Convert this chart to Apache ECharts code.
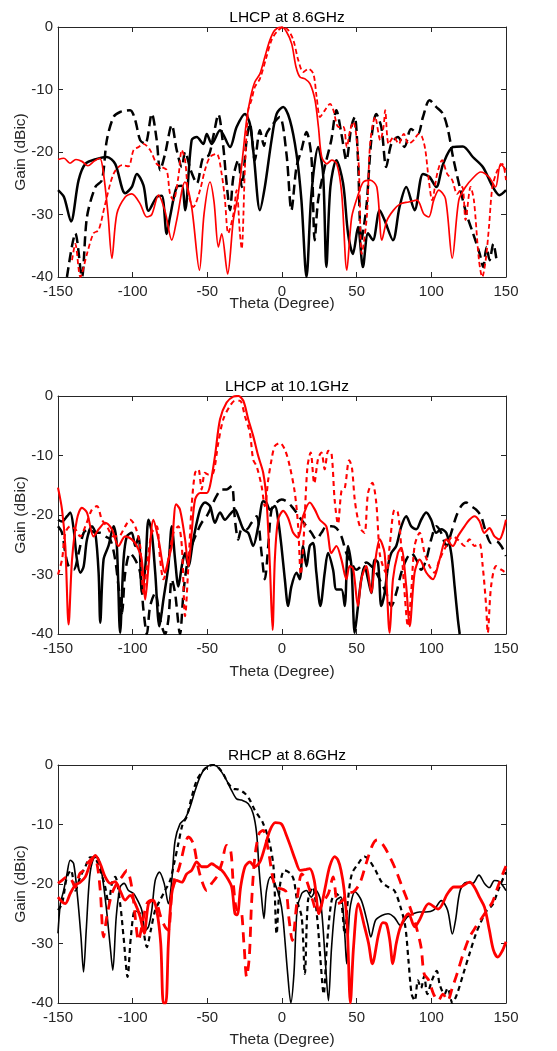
<!DOCTYPE html>
<html>
<head>
<meta charset="utf-8">
<script src="https://cdn.jsdelivr.net/npm/echarts@6/dist/echarts.min.js"></script>
<style>
  html, body { margin: 0; padding: 0; background: #fff; }
  #chart { width: 557px; height: 1051px; }
</style>
</head>
<body>
<div id="chart"></div>
<script>
// panel titles and axis ticks
var panelTitles = ['LHCP at 8.6GHz', 'LHCP at 10.1GHz', 'RHCP at 8.6GHz'];
var thetaRange = [-150, 150, 50];
var gainRange = [-40, 0, 10];

// ---- LHCP at 8.6GHz : [theta, gain]
var p1BlackSolid = [[-150,-26.1],[-146,-27.2],[-141.3,-31.1],[-136.2,-24.5],[-131.7,-21.9],[-124,-21.1],[-117.3,-20.8],[-111.7,-21.9],[-105,-26.6],[-100.6,-25.6],[-97.2,-23.5],[-92.8,-25.3],[-89.4,-29.4],[-83.9,-27.2],[-80.5,-27],[-77.2,-33.1],[-75,-30.4],[-70.5,-25.6],[-67.1,-25.4],[-64.9,-29.3],[-60.5,-18.1],[-57.1,-17.6],[-52.7,-18.7],[-50.4,-17.1],[-47.1,-18.7],[-41.5,-16.5],[-34.8,-19.2],[-30.4,-16],[-24.8,-13.9],[-21.5,-15.5],[-18.8,-20.8],[-14.8,-29.3],[-11.5,-25.6],[-7,-18.1],[-3.6,-13.9],[0.8,-12.8],[5.3,-14.9],[9.7,-20.3],[13,-27.7],[16.4,-40],[19.7,-26.7],[24.2,-19.2],[27.5,-23.5],[29.7,-38.4],[32.4,-25.6],[36.4,-21.3],[40.9,-25],[44.2,-33],[47.5,-36.3],[50.9,-32],[54.2,-38.4],[57.6,-33],[60.9,-34.1],[65.4,-29.3],[68.7,-30.9],[74.3,-34.1],[78.7,-28.8],[83.2,-25.6],[88.8,-29.3],[94.4,-23.5],[98.8,-24],[103.3,-25.6],[107.8,-22],[114.4,-19.2],[121.1,-19.1],[127.8,-20.8],[134.5,-22.4],[141.2,-25.6],[145.6,-26.9],[150,-26.1]];
var p1BlackDashed = [[-144,-40],[-140.6,-35],[-138.4,-33],[-134,-40],[-130.6,-30.4],[-125,-25.6],[-120.6,-24.5],[-117.3,-18.1],[-112.8,-14.4],[-108.4,-13.6],[-101.7,-13.3],[-98.3,-14.9],[-95,-18.1],[-91.6,-18.7],[-87.2,-13.9],[-83.9,-18.1],[-81.6,-22.9],[-78.3,-20.3],[-73.8,-15.7],[-70.5,-19.7],[-67.1,-22.4],[-64.9,-20],[-61,-23],[-57,-25],[-53,-21],[-49,-20.5],[-46,-17.5],[-42.6,-14],[-39.3,-19.2],[-37.3,-24.5],[-34.8,-29.3],[-32.6,-24],[-29.3,-21.3],[-27,-25.6],[-23.7,-18.1],[-21.5,-15.5],[-18.2,-21.3],[-14.8,-16.5],[-12,-19],[-10.4,-17.1],[-5.9,-15.5],[-1.5,-14.4],[3,-20.3],[6.3,-29.3],[9.7,-22.4],[13,-19.7],[16.4,-16.8],[19.7,-20.8],[21.9,-34.1],[24.2,-27.7],[28.6,-22.4],[33,-18.1],[36.4,-13.3],[39.8,-17.1],[43.1,-21.3],[46.4,-16],[48.7,-14.4],[50.9,-21.3],[53.1,-34.1],[56.5,-28.8],[59.8,-18.1],[63.1,-13.9],[66.5,-16],[69.8,-22.4],[73.2,-18.7],[77.6,-17.6],[82,-19.2],[86.4,-16.3],[91,-17.1],[94.4,-14.4],[98.8,-11.7],[103.3,-12.8],[107.8,-13.9],[111.2,-16.5],[114.5,-20.8],[119,-25.6],[123.5,-29.9],[127.9,-33],[132.4,-36.3],[134.7,-38.4],[137,-35.2],[139,-37.3],[141.5,-34.7],[143.5,-37]];
var p1RedSolid = [[-150,-21.2],[-146,-21],[-142,-21.8],[-138,-21.2],[-134,-21.5],[-130,-22.2],[-126,-21.5],[-122,-21],[-119.5,-23.5],[-116.5,-30],[-113.9,-37],[-110.6,-29.9],[-105,-27.2],[-100.6,-26.7],[-95,-28.3],[-90.5,-30.4],[-87.2,-30],[-82.7,-26.9],[-78.3,-29.5],[-73.8,-34.1],[-70.5,-30.9],[-65,-24.8],[-60.5,-28.8],[-55.3,-38.9],[-52.2,-29.9],[-48.2,-24.8],[-45.5,-28],[-42.6,-35.2],[-40.4,-33.1],[-36.4,-39.5],[-32.6,-30.9],[-29.3,-26.7],[-26.4,-20.8],[-23.7,-14.9],[-21,-11.2],[-18.2,-8.8],[-14.8,-7.5],[-11.5,-4.8],[-8.1,-2.1],[-4.8,-0.5],[-0.2,0],[3.1,-0.8],[6.5,-2.7],[9.4,-6.4],[12,-8],[15.4,-8.3],[18.8,-9.1],[22.1,-11.7],[24.4,-16],[26.6,-20.8],[30,-21.9],[33.3,-21.3],[36.7,-21.9],[40,-26.7],[43.4,-38.9],[46.7,-30.4],[51.2,-26.7],[54.5,-24.8],[59,-24.5],[63.5,-25.6],[66.9,-34.1],[70.2,-31],[74.7,-29.3],[79.2,-28.3],[84.8,-28],[90.4,-27.7],[94.9,-29.9],[98.3,-30.4],[101.6,-27.7],[105,-26.1],[109.5,-27.5],[114,-37],[118.4,-27.7],[122.9,-25.6],[128.5,-24],[133,-23.2],[138.6,-24],[143,-25.6],[146.4,-21.9],[150,-22.9]];
var p1RedDashed = [[-140.6,-37.3],[-138.4,-34.7],[-135,-40],[-130.6,-36.3],[-126.2,-33],[-122.8,-32.5],[-118.4,-28.3],[-112.8,-23.5],[-107.2,-22.1],[-102.8,-22.3],[-99.4,-19.7],[-96,-19.2],[-92.8,-18.7],[-88.3,-19.7],[-83.9,-21.9],[-80.5,-22.4],[-77.2,-22.9],[-75,-26.7],[-72.7,-27.7],[-69.4,-24],[-67.1,-19.7],[-64.9,-21.3],[-62.7,-26.7],[-59.4,-28.8],[-54.9,-26.1],[-51.6,-22.9],[-48.2,-20.8],[-43.8,-20.3],[-40.4,-23.5],[-38.2,-27.7],[-36,-33],[-32.6,-30],[-30.4,-26.1],[-28.2,-33],[-27,-35.5],[-24.8,-22.4],[-22.6,-13.3],[-20.4,-11.7],[-18.2,-9.6],[-14.8,-8.3],[-10.4,-4.8],[-7,-2.1],[-3.6,-0.8],[0.9,0],[4.2,-0.5],[7.6,-2.1],[10.9,-5.3],[14.3,-7.2],[17.6,-6.7],[21,-7.5],[23.2,-11.2],[25.5,-14.4],[28.8,-13.3],[32.2,-12.3],[34.4,-13.3],[37.8,-16],[41.1,-16],[43.4,-19.2],[45.6,-16.5],[47.8,-15.2],[51.2,-21.3],[53.4,-36.3],[56.8,-30.4],[59,-18.7],[62.4,-14.4],[65.8,-18.1],[68,-16],[69.1,-13.3],[71.4,-18.7],[74.8,-17.6],[78.2,-18.7],[81.5,-17.1],[84.8,-18.7],[88.2,-18.1],[91.6,-17.1],[93.8,-17.6],[96,-19.7],[98.3,-24.5],[100.5,-27.7],[103.9,-23.5],[107.2,-21.3],[110.6,-23.5],[114,-24.5],[117.3,-26.7],[120.7,-25.6],[122.9,-30.9],[126.3,-25.6],[128.5,-27.7],[131.9,-37.3],[134.1,-40],[136.4,-37.3],[138.6,-32],[140.9,-25.6],[144.3,-22.9],[147.6,-21.9],[150,-24.5]];

// ---- LHCP at 10.1GHz
var p2BlackSolid = [[-150,-20.8],[-147.3,-21.1],[-143.9,-20.2],[-141.8,-19.6],[-139.5,-22.4],[-137.3,-27.5],[-135,-29.7],[-132.8,-28.6],[-130.6,-24.1],[-127.3,-21.9],[-125,-23],[-122.8,-29.7],[-121.7,-38.1],[-119.5,-27.5],[-116.2,-25.2],[-112.8,-21.9],[-110.6,-25.2],[-108.4,-39.8],[-106.1,-27.5],[-103.9,-23.6],[-100.6,-23],[-98.3,-25.2],[-96,-23.6],[-93.8,-33.1],[-91.5,-28.6],[-89.4,-20.8],[-87.2,-23],[-84.9,-29.7],[-82.1,-38.7],[-79.4,-34.2],[-76.1,-28.6],[-73.8,-21.9],[-71.6,-27.5],[-69.4,-32],[-67.1,-28.6],[-64.9,-26.4],[-62.7,-28.6],[-59.4,-24.1],[-54.9,-19.1],[-51.6,-17.9],[-48.2,-18.5],[-44.9,-21.3],[-41.5,-19.6],[-38.2,-20.8],[-34.9,-19.9],[-31.5,-19.1],[-29.3,-20.2],[-25.9,-22.4],[-22.6,-23],[-19.3,-25.2],[-15.9,-21.9],[-12.6,-17.7],[-10.4,-18],[-8.1,-19.1],[-4.8,-18.5],[-2.6,-20.8],[-0.4,-25.2],[1.9,-30.8],[4.1,-35.3],[6.3,-32],[9.7,-29.7],[11.9,-30.8],[14.1,-25.2],[16.4,-28.6],[18.6,-25.2],[20.8,-24.7],[23,-29.7],[25.7,-35.3],[28.6,-29.7],[30.8,-26.4],[34.2,-29.2],[36.4,-32.5],[39.8,-32.5],[42,-35.3],[44.2,-25.2],[46.5,-28.6],[48.7,-39.8],[50.9,-35.3],[53.1,-30.8],[55.3,-28.6],[57.6,-30.8],[59.8,-33.1],[62,-27.5],[64.3,-28],[66.5,-35.3],[68.7,-33.1],[71,-28.6],[73.2,-26.4],[76.5,-25.2],[79.9,-21.9],[83.2,-20.2],[86.5,-21.9],[89.9,-22.4],[93.2,-20.8],[96.6,-19.6],[99.9,-20.8],[103.3,-23],[106.6,-22.4],[110,-23],[113.3,-26.4],[115.6,-32],[117.8,-37.6],[119,-40]];
var p2BlackDashed = [[-150,-21.9],[-147.3,-23],[-145.1,-26.4],[-142.9,-28.6],[-139.5,-29.2],[-136.2,-26.4],[-132.8,-23],[-129.5,-22.4],[-125,-23],[-121.7,-23],[-118.4,-23.6],[-115,-24.1],[-111.7,-27.5],[-109.5,-32],[-107.2,-36.5],[-105,-29.7],[-101.7,-26.4],[-98.3,-27.5],[-95,-29.7],[-92.8,-35.9],[-90.5,-40],[-88.3,-35.3],[-84.9,-33.1],[-81.6,-37.6],[-78.3,-40],[-76.1,-37.6],[-73.8,-30.8],[-71.6,-33.1],[-68.3,-40],[-66,-33.1],[-63.8,-28.6],[-60.5,-25.2],[-57.1,-23],[-53.8,-21.3],[-50.4,-20.2],[-47.1,-18.5],[-43.8,-16.8],[-40.4,-15.7],[-37.1,-15.7],[-33.7,-15.1],[-31.5,-20.8],[-29.3,-24.1],[-27,-22.4],[-23.7,-22.4],[-20.4,-21.3],[-17,-20.2],[-13.7,-26.4],[-11.5,-30.8],[-9.2,-25.2],[-7,-19.1],[-3.6,-17.9],[-0.3,-17.4],[3,-17.7],[6.3,-18.5],[9.7,-19.6],[13,-20.8],[16.4,-21.9],[19.7,-23],[23,-24.1],[26.4,-23],[29.7,-21.9],[33,-21.9],[36.4,-22.2],[39.8,-23.6],[43.1,-26.4],[46.4,-28],[49.8,-29.2],[53.1,-28.6],[56.5,-28],[59.8,-28.6],[63.1,-29.7],[66.5,-31.4],[69.8,-33.1],[73.2,-35.3],[76.5,-33.1],[79.9,-29.7],[83.2,-27.5],[86.5,-26.4],[89.9,-27.5],[93.2,-29.2],[96.6,-27.5],[99.9,-24.1],[103.3,-21.9],[106.6,-23],[110,-25.2],[113.3,-23],[116.7,-20.2],[120,-18.5],[123.3,-17.9],[126.6,-18.5],[130,-19.1],[133.3,-20.2],[136.7,-23],[140,-24.7],[143.4,-24.4],[146.8,-25.2],[150,-26.9]];
var p2RedSolid = [[-150,-15.4],[-147.3,-19.1],[-145.1,-25.2],[-142.9,-38.4],[-140.6,-27.5],[-137.3,-20.7],[-134,-18.8],[-130.6,-19.6],[-126.2,-23.6],[-122.8,-22.4],[-118.4,-21.3],[-113.9,-22.4],[-109.5,-25.2],[-105,-23.6],[-100.6,-24.1],[-97.2,-25.2],[-93.9,-27.5],[-91.6,-34.2],[-89.4,-28.6],[-86.1,-20.8],[-82.7,-24.1],[-78.3,-29.7],[-76.1,-27.5],[-73.8,-25.2],[-70.9,-18.2],[-68.3,-19.1],[-64.9,-24.1],[-62.7,-28.6],[-60.5,-23],[-58.2,-17.4],[-54.9,-16.3],[-50.4,-16.3],[-48.2,-15.1],[-44.9,-10.1],[-41.5,-3.9],[-37.1,-1.1],[-32.6,-0.1],[-29.3,0],[-25.9,-0.8],[-22.6,-3.9],[-19.3,-6.7],[-15.9,-10.1],[-12.6,-12.9],[-10.4,-17.4],[-8.1,-28.6],[-6.3,-39.3],[-4.8,-27.5],[-2.6,-20.8],[0.8,-19.3],[4.1,-20.5],[7.5,-23],[10.8,-23.8],[14.1,-20.2],[18.6,-17.9],[22,-19.1],[25.3,-20.8],[29.7,-21.9],[33.1,-26.4],[36.4,-25.2],[39.8,-27.5],[43.1,-30.8],[45.3,-28.6],[47.6,-29],[50.9,-35.3],[53.1,-30.8],[56.5,-28.6],[59.8,-33.1],[62,-28.6],[65.4,-24.1],[68.7,-26.4],[72.1,-39.8],[74.3,-30.8],[77.6,-26.4],[79.8,-25.5],[83.2,-32],[85.5,-38.7],[88.8,-29.7],[92.2,-27.5],[96.7,-29.7],[101,-30.8],[105.5,-27.5],[110,-24.1],[114.4,-25.2],[117.7,-23.6],[122.2,-21.9],[125.5,-20.8],[128.8,-20.2],[132.2,-21],[135.5,-23],[138.9,-22.2],[142.3,-23.6],[145.5,-24.1],[150,-20.8]];
var p2RedDashed = [[-150,-30],[-147.3,-27.5],[-145.1,-23],[-141.8,-21.9],[-138.4,-22.4],[-135.1,-23.6],[-131.7,-21.9],[-127.3,-19.1],[-123.9,-18.5],[-120.6,-20.8],[-117.3,-21.9],[-112.8,-23.6],[-109.5,-23.6],[-105,-21.9],[-101.7,-20.8],[-98.3,-21.9],[-95,-25.2],[-92.8,-33.1],[-90.5,-28.6],[-87.2,-23],[-83.9,-21.9],[-81.6,-27.5],[-79.4,-30.8],[-76.1,-27.5],[-72.7,-23],[-69.4,-21.9],[-67.1,-25.2],[-64.9,-37],[-62.7,-28.6],[-60.5,-18.5],[-58.2,-12.9],[-56,-12.3],[-53.8,-15.7],[-51.6,-12.9],[-49.3,-13.2],[-46,-12.9],[-42.7,-7.9],[-39.3,-3.9],[-34.9,-1.7],[-31.5,-0.8],[-28.2,-0.8],[-24.8,-3.4],[-21.5,-6.2],[-19.3,-10.7],[-17,-11.8],[-13.7,-15.1],[-11.5,-18.5],[-9.2,-14],[-7,-10.7],[-4.8,-8.4],[-1.4,-7.9],[1.9,-9],[5.2,-11.8],[8.6,-16.3],[10.8,-21.9],[12.6,-30],[14.5,-24],[17,-12],[19.2,-9.5],[21.6,-14.7],[24.2,-10.5],[26.4,-9.5],[28.6,-12.3],[31,-9.2],[33.1,-9.5],[35.3,-17.6],[37.5,-21.5],[39.8,-16],[42,-15.5],[45,-10.8],[46.8,-12],[48.7,-17.4],[50.9,-20.8],[53.1,-22.5],[55.3,-23],[57.6,-16.3],[60.5,-14.6],[63.1,-17.9],[65.4,-26.4],[67.6,-28.6],[69.8,-29.8],[72.1,-25.2],[75.4,-19.1],[77.6,-19.6],[79.8,-25.2],[82.1,-33.1],[84.3,-38.7],[86.5,-33],[88.8,-25.2],[92.2,-23],[95.5,-26.4],[98.8,-28.6],[102.2,-29.7],[105.5,-27.5],[110,-25.2],[114.4,-23.6],[118.9,-24.4],[122.2,-25.2],[125.5,-24.1],[128.9,-25.2],[132.2,-24.8],[134.4,-28.6],[136.7,-35.3],[137.8,-39.8],[140,-32],[143.4,-28.6],[146.8,-29.2],[150,-29.7]];

// ---- RHCP at 8.6GHz
var p3BlackSolid = [[-150,-28.3],[-148.4,-23.3],[-146.2,-21.1],[-144,-18.3],[-141.8,-16],[-139.5,-16.6],[-136.9,-22.2],[-134.6,-28.9],[-132.9,-34.8],[-131.1,-27.8],[-128.8,-18.8],[-126.2,-15.7],[-123.5,-15.5],[-120.6,-18.3],[-117.7,-23.9],[-115,-30.6],[-113.3,-34.5],[-111,-25.5],[-108.4,-20.5],[-105.7,-19.9],[-102.8,-21.1],[-99.4,-21.6],[-96.8,-22.7],[-93.9,-24.4],[-91.6,-27.8],[-89.4,-27.2],[-87.2,-24.4],[-84.9,-19.4],[-82.1,-18],[-78.9,-19.9],[-76.1,-23.3],[-73.8,-19.4],[-71.6,-12.7],[-68.3,-9.9],[-64.9,-9],[-61.6,-7.1],[-58.2,-4.3],[-54.9,-2],[-51.6,-0.6],[-47.1,0],[-43.8,-0.2],[-40.4,-1.2],[-37.1,-2.6],[-33.7,-4.3],[-30.4,-5.7],[-27,-5.9],[-22.6,-6.5],[-19.3,-8.2],[-17,-11.5],[-15.3,-17.7],[-13.7,-22.2],[-12.1,-25.8],[-10.4,-21.1],[-7.7,-18.8],[-4.8,-19.9],[-1.4,-22.5],[0.6,-25.6],[3.8,-35.1],[5.9,-40],[8,-35.1],[10.1,-24.4],[13.2,-21.6],[16.4,-21.1],[19.5,-22.2],[22.7,-21.1],[25.8,-22.8],[29,-32.9],[31.1,-39.6],[33.2,-30.6],[36.3,-22.8],[39.5,-22.2],[42,-28.4],[43.3,-33.4],[45.4,-24.4],[48.9,-21.3],[53.2,-22.8],[57.4,-26.7],[59.5,-28.9],[62.6,-26.1],[66.8,-25.3],[71,-25],[75.2,-25.6],[79.4,-27],[83.6,-25.6],[87.8,-25],[92,-24.7],[96.2,-24.7],[101.5,-24.4],[106.7,-22.8],[110.9,-24.4],[114.1,-28.4],[116.2,-26.1],[119.3,-21.1],[123.5,-19.7],[127.7,-19.9],[131.9,-18.5],[135.6,-19.9],[138.9,-20.6],[142.3,-19.4],[145.6,-19.6],[150,-21.1]];
var p3BlackDashed = [[-150,-24.4],[-147.3,-23.3],[-144,-18.8],[-141.3,-17.7],[-138.4,-21.1],[-135.1,-18.8],[-131.7,-17.1],[-128.4,-15.5],[-125,-15.7],[-121.7,-17.7],[-118.4,-20.5],[-116.1,-23.3],[-113.9,-19.9],[-111.7,-18.8],[-108.4,-23.3],[-106.1,-28.9],[-103.4,-35.6],[-101.2,-28.9],[-98.3,-24.4],[-95,-25],[-92.8,-27.8],[-90.5,-30.6],[-87.9,-27.8],[-84.9,-24.4],[-81.6,-22.7],[-78.3,-21.1],[-74.9,-19.4],[-72.3,-16.6],[-69.4,-13.2],[-66.5,-9.9],[-63.8,-8.7],[-60.5,-5.4],[-57.1,-2.6],[-52.7,-0.9],[-49.3,-0.2],[-46,0],[-42.7,-0.4],[-39.3,-1.5],[-36,-3.1],[-32.6,-4],[-29.3,-4.1],[-24.8,-4.8],[-21.5,-5.9],[-18.2,-7.6],[-15.3,-8.7],[-13,-9.6],[-8.8,-12.6],[-5.7,-17.1],[-3.6,-28.4],[-1.5,-20.5],[1.7,-17.7],[5.9,-18.3],[8,-19.4],[10.1,-22.8],[13.2,-25.6],[15.3,-35.1],[17.4,-22.8],[20.6,-20.5],[23.7,-26.1],[25.8,-32.9],[27.9,-38.5],[30,-30.6],[33.2,-22.8],[36.3,-21.6],[39.5,-22.8],[42,-28.4],[44.1,-22.8],[46.8,-18.3],[51,-16.6],[55.3,-15.4],[58.4,-16],[62.6,-17.7],[66.8,-19.7],[71,-20.5],[75.2,-21.1],[79.4,-23.9],[82.6,-27.2],[84.7,-32.9],[86.8,-38.5],[88.9,-39.6],[91,-36.2],[93.1,-37.5],[95.2,-35.5],[97.3,-38.5],[100.4,-36.2],[103.6,-34.6],[105.7,-37],[108.8,-38.5],[110.9,-37.5],[114.1,-40],[117.2,-38.5],[121.4,-35.1],[125.6,-31.7],[129.8,-28.4],[133,-26.5],[137,-24.5],[141,-23.5],[145.6,-20.5],[150,-18]];
var p3RedSolid = [[-150,-22.2],[-147.3,-23],[-145.1,-23.3],[-141.8,-21.6],[-138.4,-20.2],[-135.1,-19.7],[-131.7,-18.8],[-128.4,-16.6],[-125,-15.2],[-121.7,-16.6],[-118.4,-18.8],[-115,-19.9],[-111.7,-19.6],[-108.4,-21.1],[-105,-22.7],[-101.7,-21.9],[-98.3,-23.3],[-95,-25.5],[-92.3,-28.3],[-89.4,-23.3],[-86.5,-22.7],[-83.9,-24.4],[-81.2,-30],[-79.4,-40],[-77.8,-40],[-76.1,-30],[-73.8,-21.6],[-70.5,-19.4],[-67.1,-19.7],[-63.8,-18.3],[-60.5,-17.7],[-57.1,-16.3],[-53.8,-17.1],[-50.4,-17.1],[-47.1,-16.6],[-43.8,-17.1],[-40.4,-17.7],[-37.1,-18.8],[-33.7,-20.5],[-31.5,-25],[-30,-25.2],[-27.7,-20.5],[-24.8,-17.1],[-21.5,-16.3],[-18.2,-17.1],[-14.8,-16.3],[-11.5,-13.8],[-8.1,-11],[-4.5,-9.7],[-0.4,-9.9],[2.5,-11.5],[5.9,-13.8],[9,-16],[12.2,-17.7],[15.3,-17.6],[18.5,-17.4],[21.6,-19.4],[24.8,-25],[27,-23],[29,-20.5],[32,-17],[35.3,-15.4],[37.5,-16],[39.5,-17.7],[41.6,-21],[43.7,-27.2],[45.8,-40],[47.9,-30.6],[51.1,-23.3],[55.3,-27.2],[58,-30],[60.5,-33.4],[64.7,-28.4],[67.5,-26.5],[69.9,-26.7],[72.2,-29.5],[74.2,-33.4],[76.5,-30],[79.4,-27.2],[84.7,-25],[88.9,-27.2],[92,-26.1],[98.3,-23.3],[104.6,-24.2],[110.9,-21.6],[115.1,-20.5],[119.3,-20.5],[125.6,-19.7],[128.8,-20.5],[132.2,-22.2],[135.6,-23.9],[138.9,-27.8],[141.6,-31.1],[144.5,-32.3],[147.4,-31.3],[150,-29.7]];
var p3RedDashed = [[-150,-19.9],[-147.3,-19.4],[-144,-18.8],[-141.3,-19.2],[-138.4,-20.5],[-135.5,-18.3],[-132.9,-17.7],[-130.6,-16.6],[-128.4,-16],[-126.2,-15.5],[-123.9,-16.6],[-121.7,-21.1],[-119.5,-28.9],[-117.3,-25.5],[-113.9,-21.6],[-110.6,-19.9],[-107.2,-18.8],[-103.9,-17.7],[-100.6,-20.5],[-98.3,-25.5],[-96.1,-29.5],[-93.9,-27.2],[-90.5,-23.3],[-87.2,-22.7],[-83.9,-23.3],[-81.2,-25.5],[-78.3,-27.2],[-76.1,-27.8],[-73.8,-21.6],[-71.6,-18.8],[-69.4,-17.7],[-67.1,-15.5],[-64.9,-13.2],[-62.7,-12.1],[-59.4,-13.2],[-56.7,-16.6],[-53.8,-19.4],[-50.4,-21.1],[-47.1,-19.9],[-43.8,-18.8],[-40.4,-16.6],[-37.1,-13.5],[-34.4,-14.3],[-32.6,-19.9],[-30,-24.4],[-27.7,-24.4],[-25.5,-30],[-23.7,-35.6],[-21.9,-32.3],[-20.4,-23.3],[-18.2,-15.5],[-15.3,-11.5],[-12.6,-11],[-10.4,-12.7],[-8.8,-14.9],[-4.6,-20.5],[-0.4,-20.8],[2.7,-21.3],[4.8,-26.1],[6.9,-29.5],[10.1,-22.8],[13.2,-18.3],[16.4,-19.4],[20.6,-22.8],[23.7,-25],[26.9,-23.3],[31.1,-21.6],[34.2,-18.8],[37.4,-23.3],[40.5,-22.8],[43.7,-21.6],[47.9,-21.3],[52.1,-19.9],[56.3,-16.6],[60.5,-13.5],[63.7,-12.6],[67.9,-13.5],[72.1,-15.4],[76.3,-17.7],[80.5,-20.5],[85.7,-23.9],[89.9,-27.2],[93.1,-30.6],[95.2,-35.1],[98.3,-36.2],[101.5,-38.5],[104.6,-39.6],[107.8,-38.5],[110.9,-39.6],[114.1,-37.4],[117.2,-35.1],[121.4,-31.7],[125.6,-28.9],[129.8,-27.2],[133,-26],[137,-24.5],[141,-23],[144.5,-20.5],[147.5,-18.5],[150,-17]];

var chart = echarts.init(document.getElementById('chart'), null, { renderer: 'canvas' });

var FONT = '"Liberation Sans", Arial, sans-serif';
var TXT = '#262626';

// plot boxes: [top, height, x label margin, x name gap]
var boxes = [[27, 250, 7, 19], [396, 238, 7, 30], [765, 238, 7, 29]];

var grids = [], xAxes = [], yAxes = [], titles = [];
boxes.forEach(function (b, i) {
    grids.push({ left: 58, top: b[0], width: 448, height: b[1] });
    titles.push({
        text: panelTitles[i], left: 282, top: b[0] - 22, textAlign: 'center',
        textStyle: { fontFamily: FONT, fontSize: 15.5, fontWeight: 'normal', color: '#000' }
    });
});
var axisBase = function (pos, grid, showLabels, isX) {
    var range = isX ? thetaRange : gainRange;
    return {
        type: 'value', gridIndex: grid, position: pos,
        min: range[0], max: range[1], interval: range[2],
        axisLine: { show: true, onZero: false, lineStyle: { color: TXT, width: 1 } },
        axisTick: { show: true, inside: true, length: 5, lineStyle: { color: TXT } },
        axisLabel: { show: showLabels, color: TXT, fontFamily: FONT, fontSize: 15, margin: 5 },
        splitLine: { show: false }
    };
};
// bottom / left axes with labels
boxes.forEach(function (b, i) {
    var x = axisBase('bottom', i, true, true);
    x.axisLabel.margin = b[2];
    x.name = 'Theta (Degree)';
    x.nameLocation = 'middle';
    x.nameGap = b[3];
    x.nameMoveOverlap = false;
    x.nameTextStyle = { color: TXT, fontFamily: FONT, fontSize: 15.5 };
    xAxes.push(x);
    var y = axisBase('left', i, true, false);
    y.name = 'Gain (dBic)';
    y.nameLocation = 'middle';
    y.nameGap = 29;
    y.nameMoveOverlap = false;
    y.nameTextStyle = { color: TXT, fontFamily: FONT, fontSize: 15.5 };
    yAxes.push(y);
});
// top / right axes only for the box and inner ticks
boxes.forEach(function (b, i) {
    xAxes.push(axisBase('top', i, false, true));
    yAxes.push(axisBase('right', i, false, false));
});

function line(data, grid, color, width, dash) {
    return {
        type: 'line', xAxisIndex: grid, yAxisIndex: grid, data: data,
        showSymbol: false, symbol: 'none', smooth: 0.3, clip: true,
        lineStyle: { color: color, width: width, type: dash || 'solid' },
        emphasis: { disabled: true }, silent: true
    };
}

var series = [
    line(p1BlackSolid, 0, '#000', 2.5),
    line(p1BlackDashed, 0, '#000', 2.5, [10, 5]),
    line(p1RedSolid, 0, '#ff0000', 1.7),
    line(p1RedDashed, 0, '#ff0000', 1.8, [5, 3]),

    line(p2BlackSolid, 1, '#000', 2.5),
    line(p2BlackDashed, 1, '#000', 2.5, [10, 6]),
    line(p2RedSolid, 1, '#ff0000', 2.1),
    line(p2RedDashed, 1, '#ff0000', 2.1, [5, 4]),

    line(p3BlackSolid, 2, '#000', 1.6),
    line(p3BlackDashed, 2, '#000', 2.2, [5, 4]),
    line(p3RedSolid, 2, '#ff0000', 2.8),
    line(p3RedDashed, 2, '#ff0000', 2.8, [10, 7])
];

chart.setOption({
    animation: false,
    backgroundColor: '#fff',
    title: titles,
    grid: grids,
    xAxis: xAxes,
    yAxis: yAxes,
    series: series
});
</script>
</body>
</html>
